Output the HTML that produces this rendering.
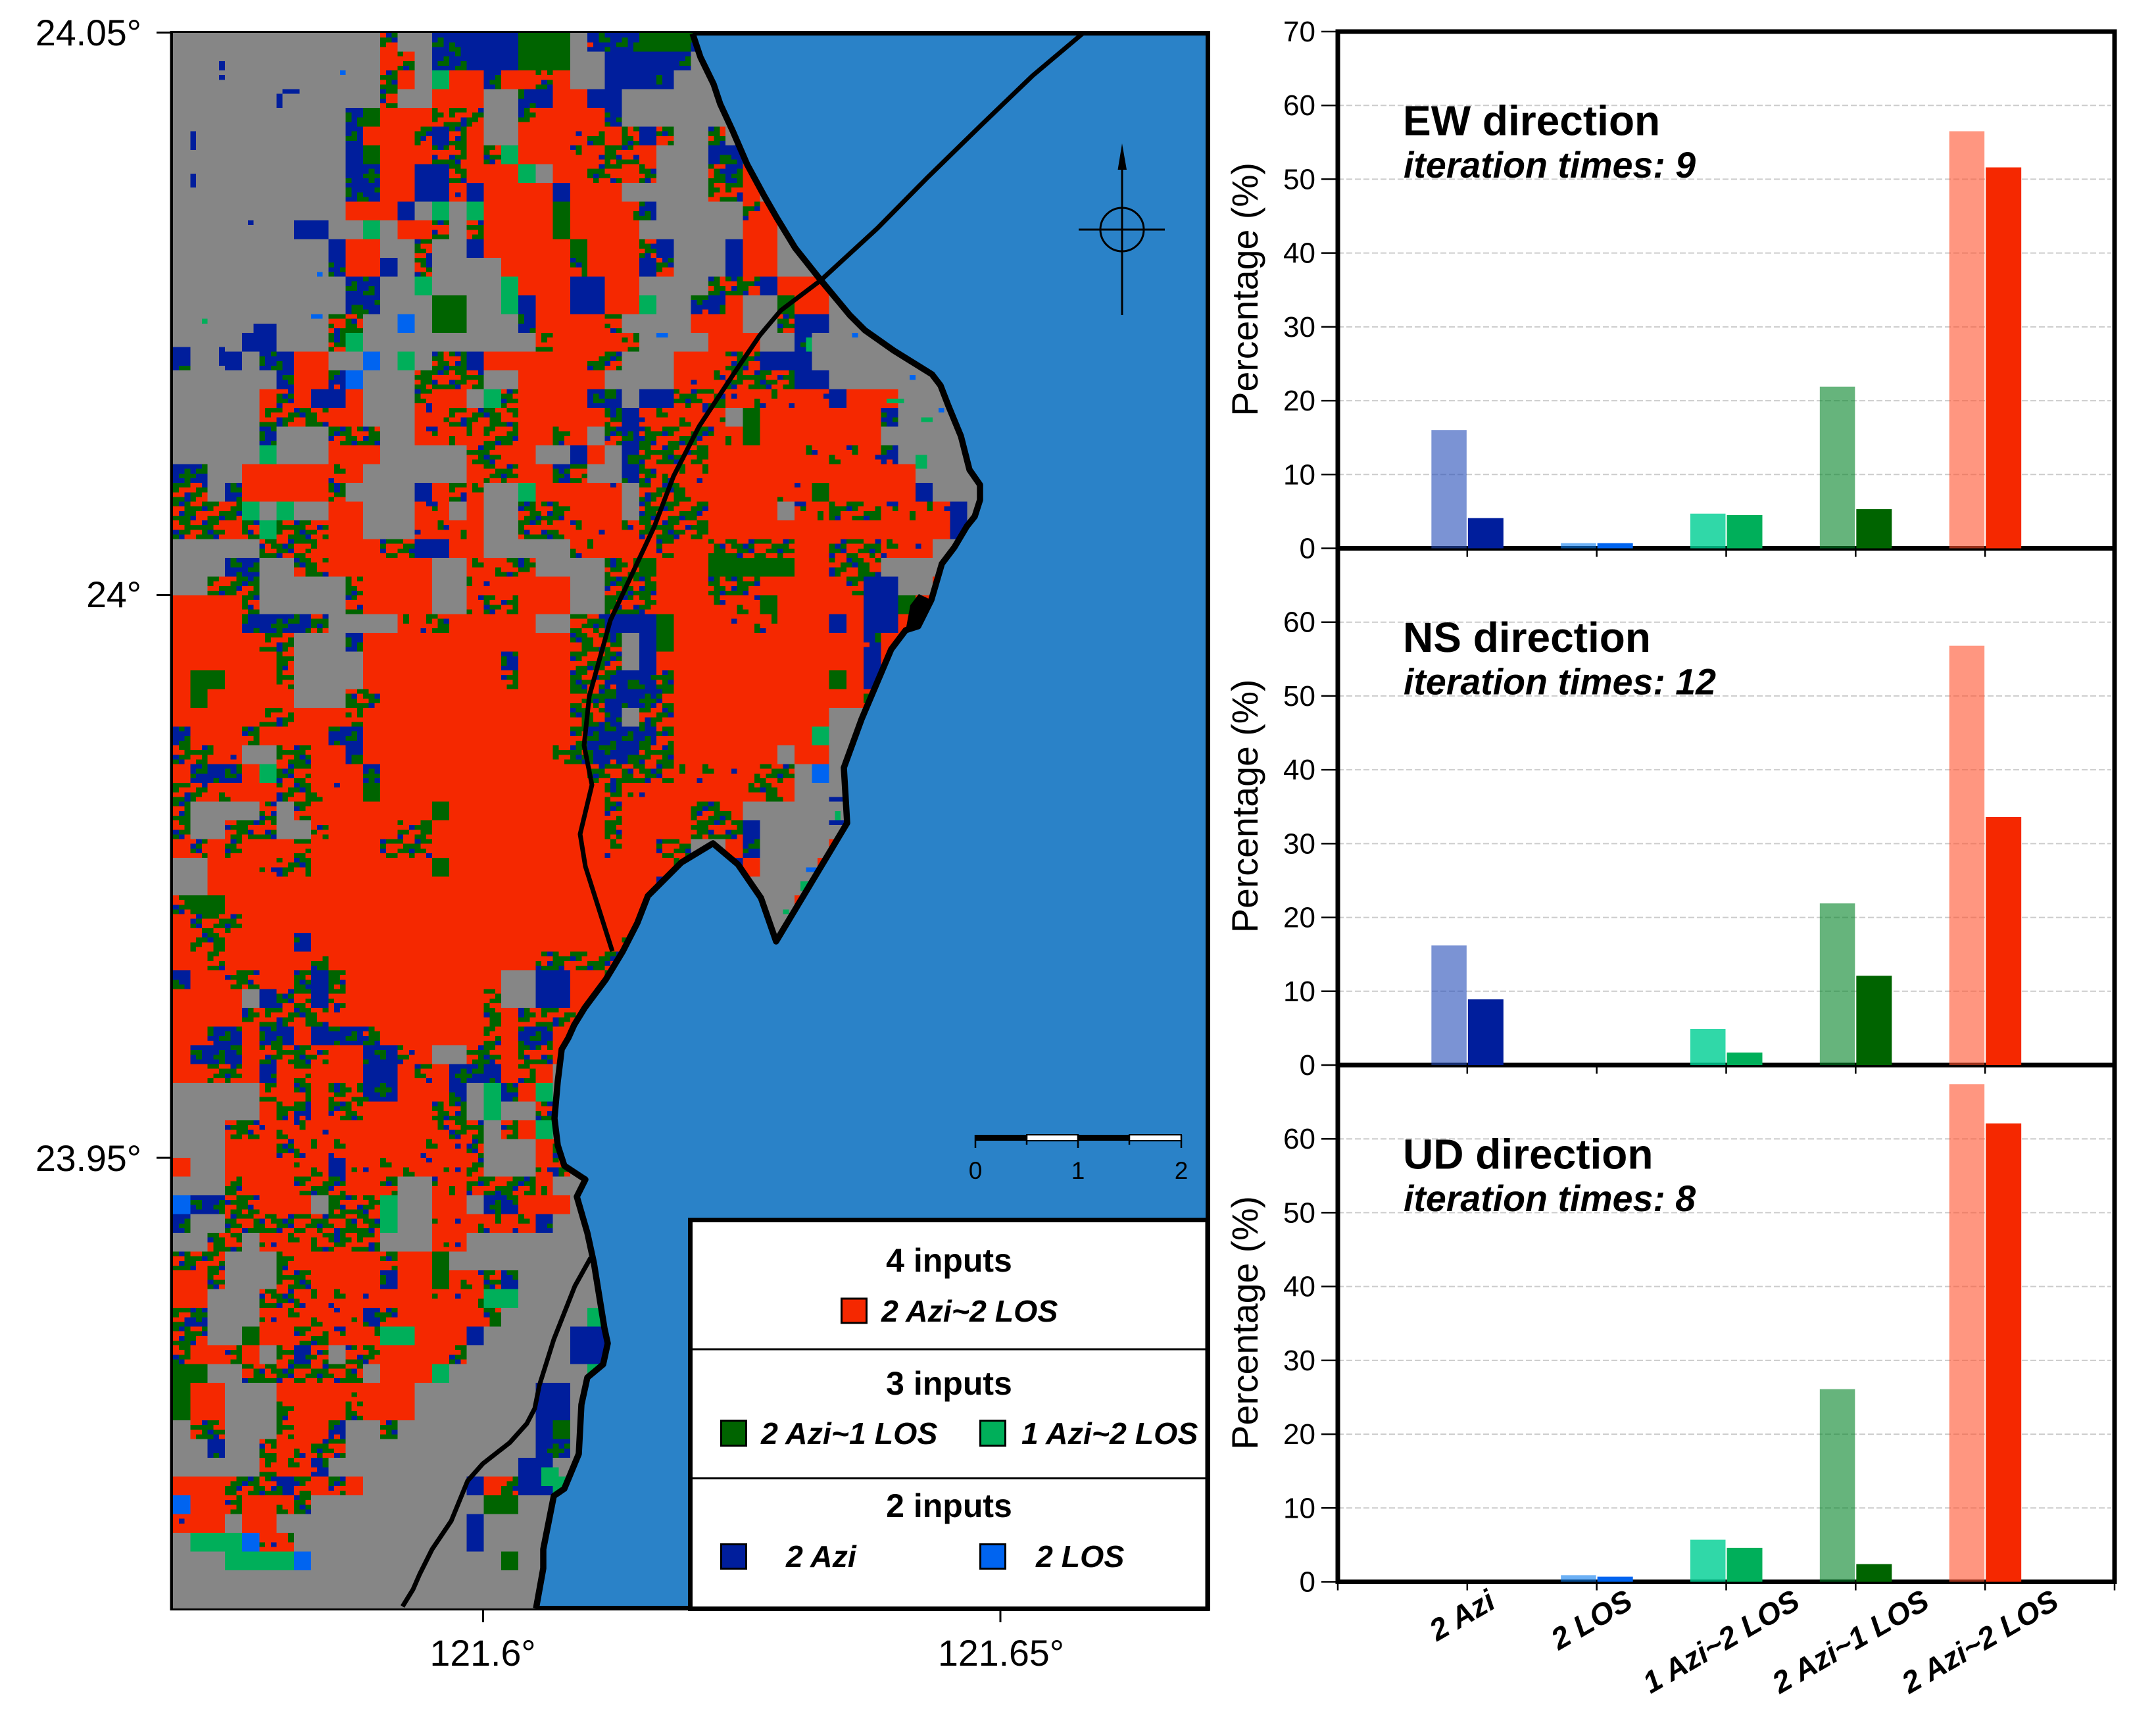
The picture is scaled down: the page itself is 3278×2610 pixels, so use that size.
<!DOCTYPE html>
<html lang="en">
<head>
<meta charset="utf-8">
<title>Land cover inputs map and iteration bar charts</title>
<style>
html,body{margin:0;padding:0;background:#fff}
svg{display:block}
text{font-family:"Liberation Sans",Arial,sans-serif;fill:#000}
.bi{font-weight:bold;font-style:italic}
.b{font-weight:bold}
</style>
</head>
<body>
<svg id="fig" xmlns="http://www.w3.org/2000/svg" width="3278" height="2610" viewBox="0 0 3278 2610">
<rect width="3278" height="2610" fill="#fff"/>
<defs id="defs">
<clipPath id="landClip"><path d="M263 50L1053 50L1065 87L1085 128L1095 158L1114 199L1136 250L1162 298L1181 331L1209 377L1248 426L1292 479L1315 502L1359 533L1417 569L1430 586L1442 617L1461 663L1474 714L1490 737L1490 760L1482 785L1470 800L1451 832L1432 857L1416 912L1396 952L1377 958L1355 987L1310 1093L1283 1167L1288 1251L1180 1431L1157 1365L1122 1314L1084 1282L1036 1311L985 1362L969 1403L947 1446L921 1489L889 1532L873 1558L864 1578L854 1595L848 1644L843 1700L848 1741L858 1772L890 1793L877 1819L893 1874L903 1920L919 2019L924 2042L917 2074L893 2094L884 2135L880 2210L858 2263L842 2274L826 2355L826 2384L815 2445L263 2445Z"/></clipPath>
</defs>
<g id="mapPanel">
<rect x="262" y="50" width="1574" height="2395" fill="#2a82c8"/>
<rect x="262" y="50.5" width="1574.5" height="2394" fill="none" stroke="#000" stroke-width="7"/>
<g id="raster" clip-path="url(#landClip)" shape-rendering="crispEdges"></g>
<path fill="none" stroke="#000" stroke-width="9.5" stroke-linejoin="round" d="M1053 51L1065 87L1085 128L1095 158L1114 199L1136 250L1162 298L1181 331L1209 377L1248 426L1292 479L1315 502L1359 533L1417 569L1430 586L1442 617L1461 663L1474 714L1490 737L1490 760L1482 785L1470 800L1451 832L1432 857L1416 912L1396 952L1377 958L1355 987L1310 1093L1283 1167L1288 1251L1180 1431L1157 1365L1122 1314L1084 1282L1036 1311L985 1362L969 1403L947 1446L921 1489L889 1532L873 1558L864 1578L854 1595L848 1644L843 1700L848 1741L858 1772L890 1793L877 1819L893 1874L903 1920L919 2019L924 2042L917 2074L893 2094L884 2135L880 2210L858 2263L842 2274L826 2355L826 2384L815 2445"/>
<path fill="#000" d="M1397 903L1416 912L1393 952L1377 958L1384 920Z"/>
<path fill="none" stroke="#000" stroke-width="7" stroke-linejoin="round" d="M1646 51L1570 115L1493 189L1410 270L1334 347L1248 426L1187 472L1155 510L1117 566L1063 648L1024 724L995 800L928 943L896 1058L888 1133L900 1193L882 1268L890 1317L931 1446"/>
<path fill="none" stroke="#000" stroke-width="7" stroke-linejoin="round" d="M898 1912L874 1955L842 2036L820 2106L813 2141L801 2164L775 2193L734 2225L711 2251L686 2312L657 2355L638 2393L628 2416L612 2442"/>
<g font-size="55.5">
<line x1="238" x2="260" y1="49.5" y2="49.5" stroke="#000" stroke-width="3"/>
<line x1="238" x2="260" y1="904.5" y2="904.5" stroke="#000" stroke-width="3"/>
<line x1="238" x2="260" y1="1760" y2="1760" stroke="#000" stroke-width="3"/>
<line x1="734.5" x2="734.5" y1="2446" y2="2466" stroke="#000" stroke-width="3"/>
<line x1="1521" x2="1521" y1="2446" y2="2466" stroke="#000" stroke-width="3"/>
<text x="215" y="69" text-anchor="end">24.05°</text>
<text x="215" y="923" text-anchor="end">24°</text>
<text x="215" y="1780" text-anchor="end">23.95°</text>
<text x="734" y="2532" text-anchor="middle">121.6°</text>
<text x="1522" y="2532" text-anchor="middle">121.65°</text>
</g>
<g>
<path d="M1706 218L1713 258L1699.5 258Z" fill="#000"/>
<line x1="1706" x2="1706" y1="250" y2="479" stroke="#000" stroke-width="3"/>
<line x1="1640" x2="1771" y1="349" y2="349" stroke="#000" stroke-width="3"/>
<circle cx="1706" cy="349" r="33" fill="none" stroke="#000" stroke-width="3"/>
</g>
<g>
<rect x="1483" y="1725" width="78" height="9" fill="#000"/>
<rect x="1561" y="1725" width="78" height="9" fill="#fff" stroke="#000" stroke-width="2"/>
<rect x="1639" y="1725" width="78" height="9" fill="#000"/>
<rect x="1717" y="1725" width="79" height="9" fill="#fff" stroke="#000" stroke-width="2"/>
<path d="M1483 1725V1745M1561 1725V1740M1639 1725V1745M1717 1725V1740M1796 1725V1745" stroke="#000" stroke-width="2.5" fill="none"/>
<text x="1483" y="1792" font-size="37" text-anchor="middle">0</text>
<text x="1639" y="1792" font-size="37" text-anchor="middle">1</text>
<text x="1796" y="1792" font-size="37" text-anchor="middle">2</text>
</g>
<g>
<rect x="1049.5" y="1854.5" width="786.5" height="591" fill="#fff" stroke="#000" stroke-width="7"/>
<line x1="1050" x2="1836" y1="2051" y2="2051" stroke="#000" stroke-width="3"/>
<line x1="1050" x2="1836" y1="2247" y2="2247" stroke="#000" stroke-width="3"/>
<text class="b" x="1443" y="1933" font-size="50" text-anchor="middle">4 inputs</text>
<text class="b" x="1443" y="2120" font-size="50" text-anchor="middle">3 inputs</text>
<text class="b" x="1443" y="2306" font-size="50" text-anchor="middle">2 inputs</text>
<rect x="1279.5" y="1974" width="38" height="37" fill="#f52800" stroke="#000" stroke-width="3"/>
<text class="bi" x="1340" y="2009" font-size="46.5">2 Azi~2 LOS</text>
<rect x="1096.5" y="2159.5" width="38" height="38" fill="#006400" stroke="#000" stroke-width="3"/>
<text class="bi" x="1157" y="2195" font-size="46.5">2 Azi~1 LOS</text>
<rect x="1490.5" y="2159.5" width="38" height="38" fill="#00af5a" stroke="#000" stroke-width="3"/>
<text class="bi" x="1553" y="2195" font-size="46.5">1 Azi~2 LOS</text>
<rect x="1096.5" y="2347.5" width="38" height="37" fill="#001e9c" stroke="#000" stroke-width="3"/>
<text class="bi" x="1195" y="2382" font-size="46.5">2 Azi</text>
<rect x="1490.5" y="2347.5" width="38" height="37" fill="#0064f0" stroke="#000" stroke-width="3"/>
<text class="bi" x="1575" y="2382" font-size="46.5">2 LOS</text>
</g>
</g>
<g id="charts"></g>
</svg>
<script>
var categories = ['2 Azi', '2 LOS', '1 Azi~2 LOS', '2 Azi~1 LOS', '2 Azi~2 LOS'];
var directionTitles = ['EW direction', 'NS direction', 'UD direction'];
var iterationCounts = [9, 12, 8];
var firstStageEW = [16.0, 0.7, 4.7, 21.9, 56.5];
var finalStageEW = [4.1, 0.7, 4.5, 5.3, 51.6];
var firstStageNS = [16.2, 0, 4.9, 21.9, 56.8];
var finalStageNS = [8.9, 0, 1.7, 12.1, 33.6];
var firstStageUD = [0, 0.9, 5.7, 26.1, 67.4];
var finalStageUD = [0, 0.7, 4.6, 2.4, 62.1];
var yTickValues = [0, 10, 20, 30, 40, 50, 60, 70];

// Land-cover classes per coarse map cell, run-length coded row by row.
// . gray, r red, x red with speckle, y mixed, z blue with speckle, b blue, d dark green, m mid green, l bright blue
var landCoverRows = [
"12.y2.2z3b3d.3z3dz",
"12.ry.2z3b3d2.4bz",
"12.yr.m2rz2ryr2.3bz",
"12.y2.3r2.zb2r2b",
"10.zd3r3y2.y4rz",
"10.z3rybyr2.3rxyryby2.y",
"10.bd3r2yrym3r2x2yr3.2zm",
"10.2z2r2by3rm.2r2yxy3.yzr",
"10.2z2r2bxb4rb3r5.2yr",
"10.3rb.m.m4rd3rxz5.yr",
"7.2b2.m.2ry.y4rd4r6.2r",
"9.b2r2.y2.b5rd3ryb3.b2r",
"9.z2rb.y4.4ry3rby3.b2r.",
"10.2z2.m4.m3r2b2r4.3yb3r",
"10.2z3.2d2.mb2r2b2rm2.2zr2.d2r.",
"9.2y2.l.2d3.z4ry4.3r2.y2b",
"4.2b3.ym10.y4ry4.3r2.z",
"z2.b.2z2r2.l.m.2yb6r2y3.3r2y3b",
"6.z2rzl3.4y2.5r4.3x4y2b",
"5.ryr2br3.y2r.my4r2z.2b3y4xrxb3r",
"5.4y2r3.2x4y5ryb5x.d7rz",
"5.z3.3y2.4x2y2ryr.yz4y2xd7r",
"5.m3.3r5.2y2r2.br.z4y5r5xz",
"2z2.5r2x6.r2y2rzy2.zy3x12r",
"2y.z5ry4.bryx2.m4rx.3y5r2xd5rb",
"4ym.m2.2r3.2x.r2.3y3r.4y4r.2x3y4xb",
"3yrym3y2r3.3xr2.2y5x4y14rb.",
"5.3yx3r2y2b2r5.2x3ry2r5y2r3y3x2.",
"3.2z2.2y6r2.2x2y4.2yd3r5d2r3y4.m",
"2.3y5.y4r2.2x4r2.3y3r3y5ry2b2.r",
"4ry5.y4r2.x2y3r2.3y3r3xd5r2bdr",
"4r4zy4.2xy5r2.2y3bd3r3x3rbr2b2r",
"5r2y3.z12r3y.bd11rz2r",
"6ry4.8rz3r3y.b12rbr",
"r2d3ry4.8ry3r2y3zy9rdrbm",
"rd5r3.2y11r2y3zy11ry",
"5r2y3ry12r2yz.2y9r2.",
"z3ry4r2z12ry3zzy8rm2.",
"2y2x2.2y2rz11r2y3z2y6r.2r2.",
"r3zrm2y3rz12r3y2y5x2y.l2.",
"2y2x2r2y2xrd13ry2x5rxyx3.",
"y4.y.y7rd9ry4r2yx7.",
"y2.3y2.y4r2y10ry4r3yb6.",
"ryry3ry4r3y10rx2r2y2.rz4.r",
"2.3rx2y7rd13r2y.zr4.r",
"2.26rzy",
"y2d25r",
"r3y23r",
"r2y4rz18ry",
"2ry5ry12r2y3y",
"z2r2y2ryby9r2.2b2ry",
"4r.b2yby8ry2.2b2r",
"4r5yx8ryr3yx",
"2r2zr2zrb2zy6ryr2zr.",
"r3zr3yy2r2zyr2.2yr2yr",
"2r2yrzry3r2bryr3zryr.",
"5.yryr2y2z3rz.mzrm.",
"5.ryzr2y4r2y.m2.y.",
"3.2y5x5rx2y.yrm.",
"3.3ry3x4r3xy3.ry",
"r2.4r2xb7xy3.xy",
"3.y3r3y2ry2.2x4yx2.",
"l2z2y3r.3ym2.2r.2z3r.",
"z2.6y3ym2.6xz3.",
"2.2y.3x4y3.2x",
"3y3.y5ry2rd",
"2ry3.2y4rz2rd2xyz",
"2r3.2y5x3r3x2m",
"yz3.5xxzy5ry5.2m",
"2y2.d2r2yxrx2m3rb5.2bm",
"y2ryr.yzy.2y4ry6.2bm",
"2d2.7y.3rm8.2m",
"d2r3.4rx3r7.2b.m",
"d2r3.y3ry3r7.2b",
".2y3.y2rz2.y8.bd",
"2.z2.y2x2y11.2z",
"5.y2xz11.2b",
"3r3yzyryr6.bry2bm",
"l2ry2rxy10.2d",
"x2r.2r11.b",
".3ml2x10.b",
"3.4ml11.d",
"",
""
];

// Small isolated patches seen in the gray areas: raster column, raster row, span, rows, class.
var isolatedPatches = [
[8,6,1,2,'b'],[8,9,1,1,'b'],[19,12,3,1,'b'],[18,13,1,3,'b'],[3,21,1,4,'b'],[3,30,1,3,'b'],
[13,40,1,1,'b'],[22,40,5,3,'b'],[14,62,4,5,'b'],[0,67,3,4,'b'],[8,67,1,4,'b'],
[29,8,1,1,'l'],[25,51,1,1,'l'],[24,60,2,1,'l'],[5,61,1,1,'m'],
[84,64,2,1,'l'],[118,64,1,1,'l'],[110,65,1,3,'m'],[128,73,1,1,'l'],[124,78,3,1,'m'],
[130,82,2,1,'m'],[133,80,1,1,'l'],[129,90,2,3,'m'],
[115,166,1,3,'m'],[114,163,3,1,'b'],[114,168,3,1,'b'],[112,176,1,2,'r'],[110,178,2,1,'l'],
[109,181,2,2,'m'],[108,184,1,2,'r'],[106,187,1,1,'m'],[64,306,3,4,'m']
];

// Hand-drawn speckle textures for the mixed classes (one character = one raster pixel).
var speckleX = ["rrrrdrrrrrrrbrrr","rrrrddrrrrrrrrrr","rbrrrrrrdrrrrrrd","rrrrrrrrddrrrrrr","rrrdrrrrrrrrbbrr","rrrdrrbrrrrrrdrr","drrrrrrrrrrrrrrr","drrrrrrrrdrrrrrr","rrrrrbdrrrrrrrdr","rrrrrrdrrrrrrrdb","rrdrrrrrrrbrrrrr","rrddrrrrrrrrrrrr","rrrrrrrrdrrrdrrr","rbrrrrrrdrrrddrr","rrrrrdrrrrrrrrrr","rrrrrdbrrrrbrrrr"];
var speckleY = ["dddrrbddrrddbdrr","drrrddbddrrdbddr","rrbddrrddrrrddrr","ddbdrrrdddbdrrrd","dbdrrdddrrrddbdr","rrdddbdrrrddbddr","rbddrrrrdddbrrdd","dddbrrddbddrrddb","rddrrbddrrrdddbd","rrdddddrrbdddrrr","bddrrdbddrrddbrr","dbrrdddbrrddrddd","ddrrbdddrrbdddrr","rddbdrrrdddrrrdb","rrddbrrddbddrrdd","ddbrrddrrdrrbddd"];
var speckleZ = ["bbbbdbbbbbdbbbbb","bbbdddbbbbddbbdb","dbbbdbbbrbbbbddb","ddbbbbbbbbbdbbbb","bdbbbddbbbbddbbb","bbbbbddbbdbbbbbd","bbdbbbbbddbbbbdd","bddbbbrbbbbbdbbb","bbbbbbbbbbdddbbb","bbbddbbbdbbdbbbb","dbbbdbbddbbbbbbd","ddbbbbbbdbbbrbbd","bbbbbdbbbbbddbbb","bbdbddbbbdbddbbb","bdddbbbbbddbbbbb","bbdbbbbdbbbbbbdb"];

var NS = 'http://www.w3.org/2000/svg';
var classFill = {'.':'#868686', r:'#f52800', b:'#001e9c', d:'#006400', m:'#00af5a', l:'#0064f0', x:'url(#speckle-x)', y:'url(#speckle-y)', z:'url(#speckle-z)'};
var pixelW = 8.75, pixelH = 7.125, cellW = 26.25, cellH = 28.5, originX = 263, originY = 50;

function node(tag, parent) {
  var el = document.createElementNS(NS, tag);
  parent.appendChild(el);
  return el;
}
function setAll(el, props) {
  for (var k in props) el.setAttribute(k, props[k]);
  return el;
}

function buildSpeckle(id, tile) {
  var defs = document.getElementById('defs');
  var p = node('pattern', defs);
  setAll(p, {id: id, patternUnits: 'userSpaceOnUse', x: originX, y: originY, width: 140, height: 114});
  
  
  tile.forEach(function (line, row) {
    for (var col = 0; col < line.length; col++) {
      var r = node('rect', p);
      setAll(r, {x: col * pixelW, y: row * pixelH, width: pixelW + 0.1, height: pixelH + 0.1, fill: classFill[line[col]], 'shape-rendering': 'crispEdges'});
      
      
    }
  });
}
buildSpeckle('speckle-x', speckleX);
buildSpeckle('speckle-y', speckleY);
buildSpeckle('speckle-z', speckleZ);

function drawRaster() {
  var g = document.getElementById('raster');
  var base = node('rect', g);
  setAll(base, {x: originX, y: originY, width: 1575, height: 2395, fill: classFill['.']});
  
  
  landCoverRows.forEach(function (row, ri) {
    var re = /(\d*)([.rxyzbdml])/g, m, col = 0;
    while ((m = re.exec(row))) {
      var n = m[1] ? parseInt(m[1], 10) : 1;
      if (m[2] !== '.') {
        var r = node('rect', g);
        setAll(r, {x: originX + col * cellW, y: originY + ri * cellH, width: n * cellW, height: cellH, fill: classFill[m[2]]});
        
        
      }
      col += n;
    }
  });
  isolatedPatches.forEach(function (p) {
    var r = node('rect', g);
    setAll(r, {x: originX + p[0] * pixelW, y: originY + p[1] * pixelH, width: p[2] * pixelW, height: p[3] * pixelH, fill: classFill[p[4]]});
    
    
  });
}
drawRaster();

// Bar charts
var plotLeft = 2034, plotRight = 3215, plotTops = [48, 833.5, 1619], plotHeight = 785.5;
var lightFills = ['#234bb7', '#0a7bee', '#00cf94', '#008225', '#ff502b'];
var lightOpacities = [0.6, 0.6, 0.81, 0.6, 0.6];
var darkFills = ['#001e9c', '#0064f0', '#00af5a', '#006400', '#f52800'];
var firstSeries = [firstStageEW, firstStageNS, firstStageUD];
var finalSeries = [finalStageEW, finalStageNS, finalStageUD];
function xAxis(v) { return plotLeft + (plotRight - plotLeft) * v / 6; }
function yAxis(panel, v) { return plotTops[panel] + plotHeight - plotHeight * v / 70; }

function drawCharts() {
  var g = document.getElementById('charts');
  var p, i;
  for (p = 0; p < 3; p++) {
    yTickValues.forEach(function (v) {
      if (v === 0 || v === 70) return;
      var gl = node('line', g);
      setAll(gl, {x1: plotLeft, x2: plotRight - 5, y1: yAxis(p, v), y2: yAxis(p, v), stroke: '#cccccc', 'stroke-width': 2, 'stroke-dasharray': '9 4'});
      
      
    });
  }
  for (p = 0; p < 3; p++) {
    var frame = node('rect', g);
    setAll(frame, {x: plotLeft, y: plotTops[p], width: plotRight - plotLeft, height: plotHeight, fill: 'none', stroke: '#000', 'stroke-width': 7});
    
    
  }
  for (p = 0; p < 3; p++) {
    yTickValues.forEach(function (v) {
      if (v === 70 && p > 0) return;
      var y = yAxis(p, v);
      var t = node('line', g);
      setAll(t, {x1: plotLeft - 25, x2: plotLeft, y1: y, y2: y, stroke: '#000', 'stroke-width': 2.5});
      
      
      var lab = node('text', g);
      setAll(lab, {x: plotLeft - 34, y: y + 15, 'font-size': 44, 'text-anchor': 'end'});
      lab.textContent = v;
      
      
    });
    var base = yAxis(p, 0);
    for (i = 0; i <= 6; i++) {
      if ((i === 0 || i === 6) && p < 2) continue;
      var xt = node('line', g);
      setAll(xt, {x1: xAxis(i), x2: xAxis(i), y1: base, y2: base + 13, stroke: '#000', 'stroke-width': 2.5});
      
      
    }
    categories.forEach(function (c, k) {
      var cx = xAxis(k + 1);
      var a = firstSeries[p][k], b = finalSeries[p][k];
      if (a > 0) {
        var bar1 = node('rect', g);
        setAll(bar1, {x: cx - 54.5, y: yAxis(p, a), width: 53.5, height: base - yAxis(p, a), fill: lightFills[k], 'fill-opacity': lightOpacities[k]});
        
        
      }
      if (b > 0) {
        var bar2 = node('rect', g);
        setAll(bar2, {x: cx + 1, y: yAxis(p, b), width: 54, height: base - yAxis(p, b), fill: darkFills[k]});
        
        
      }
    });
    var title = node('text', g);
    setAll(title, {x: 2133, y: plotTops[p] + 157.5, 'font-size': 64, 'class': 'b'});
    title.textContent = directionTitles[p];
    
    
    var sub = node('text', g);
    setAll(sub, {x: 2134, y: plotTops[p] + 222, 'font-size': 55.5, 'class': 'bi'});
    sub.textContent = 'iteration times: ' + iterationCounts[p];
    
    
    var yTitle = node('text', g);
    var my = plotTops[p] + plotHeight / 2 - 1;
    setAll(yTitle, {x: 1912, y: my, 'font-size': 55.5, 'text-anchor': 'middle', transform: 'rotate(-90 1912 ' + my + ')'});
    yTitle.textContent = 'Percentage (%)';
    
    
  }
  categories.forEach(function (c, k) {
    var lab = node('text', g);
    setAll(lab, {'font-size': 46, 'class': 'bi', 'text-anchor': 'middle'});
    lab.textContent = c;
    
    
    var len = lab.getComputedTextLength();
    var h = 34;
    var cx = xAxis(k + 1) - 8;
    var cy = 2414 + (len * 0.5 + h * 0.866) / 2;
    setAll(lab, {x: cx, y: cy + 16, transform: 'rotate(-30 ' + cx + ' ' + cy + ')'});
  });
}
drawCharts();
</script>
</body>
</html>
